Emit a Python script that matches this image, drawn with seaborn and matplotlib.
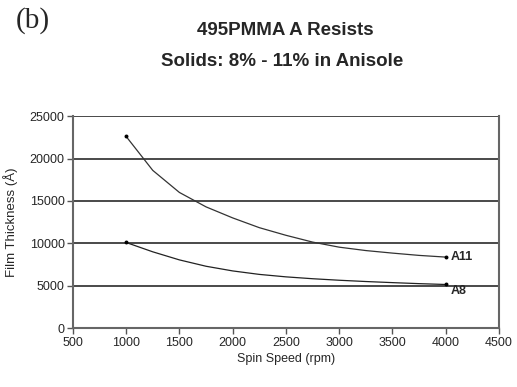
import matplotlib
matplotlib.use("Agg")
import matplotlib.pyplot as plt
import seaborn as sns
import pandas as pd

speeds = [1000, 1250, 1500, 1750, 2000, 2250, 2500, 2750, 3000, 3250, 3500, 3750, 4000]
a11 = [22600, 18600, 16000, 14300, 13000, 11850, 10950, 10150, 9550, 9150, 8850, 8580, 8380]
a8 = [10100, 9000, 8050, 7300, 6750, 6340, 6050, 5830, 5650, 5500, 5370, 5250, 5150]
series_names = ["A11", "A8"]
x_ticks = [500, 1000, 1500, 2000, 2500, 3000, 3500, 4000, 4500]
y_ticks = [0, 5000, 10000, 15000, 20000, 25000]

sns.set_theme(style="white")
plt.rcParams['font.family'] = ['Liberation Sans', 'DejaVu Sans']

df = pd.DataFrame({
    "speed": speeds * 2,
    "thickness": a11 + a8,
    "series": [series_names[0]] * len(speeds) + [series_names[1]] * len(speeds),
})

fig = plt.figure(figsize=(5.17, 3.87), dpi=100)
ax = fig.add_axes([0.141, 0.152, 0.824, 0.548])

for y in y_ticks[1:]:
    ax.axhline(y, color="#3a3a3a", lw=1.3, zorder=0)

sns.lineplot(data=df, x="speed", y="thickness", hue="series",
             palette={"A11": "#333333", "A8": "#222222"}, lw=0.9,
             legend=False, ax=ax)
ends = df[df["speed"].isin([speeds[0], speeds[-1]])]
sns.scatterplot(data=ends, x="speed", y="thickness", color="black", s=8,
                linewidth=0, legend=False, ax=ax, zorder=5)

ax.text(speeds[-1] + 50, a11[-1], series_names[0], va="center", ha="left",
        fontsize=9, fontweight="bold")
ax.text(speeds[-1] + 50, 4400, series_names[1], va="center", ha="left",
        fontsize=9, fontweight="bold")

ax.set_xlim(500, 4500)
ax.set_ylim(0, 25000)
ax.set_xticks(x_ticks)
ax.set_yticks(y_ticks)
ax.set_xticklabels([str(v) for v in x_ticks], fontsize=9)
ax.set_yticklabels([str(v) for v in y_ticks], fontsize=9)
ax.tick_params(axis="both", direction="out", length=4, width=1, color="#555555",
               bottom=True, left=True, pad=2)
for s in ["left", "bottom", "right"]:
    ax.spines[s].set_color("#666666")
    ax.spines[s].set_linewidth(1.5)
ax.spines["top"].set_visible(False)
ax.set_xlabel("Spin Speed (rpm)", fontsize=9, labelpad=3)
ax.set_ylabel("Film Thickness (Å)", fontsize=9.5, labelpad=8)

fig.text(0.064, 0.948, "(b)", fontsize=21, family=["Liberation Serif"], ha="center", va="center")
fig.text(0.551, 0.922, "495PMMA A Resists", fontsize=13.5, fontweight="bold",
         ha="center", va="center")
fig.text(0.545, 0.84, "Solids: 8% - 11% in Anisole", fontsize=13.5, fontweight="bold",
         ha="center", va="center")

fig.savefig("out.png", dpi=100, facecolor="white")
